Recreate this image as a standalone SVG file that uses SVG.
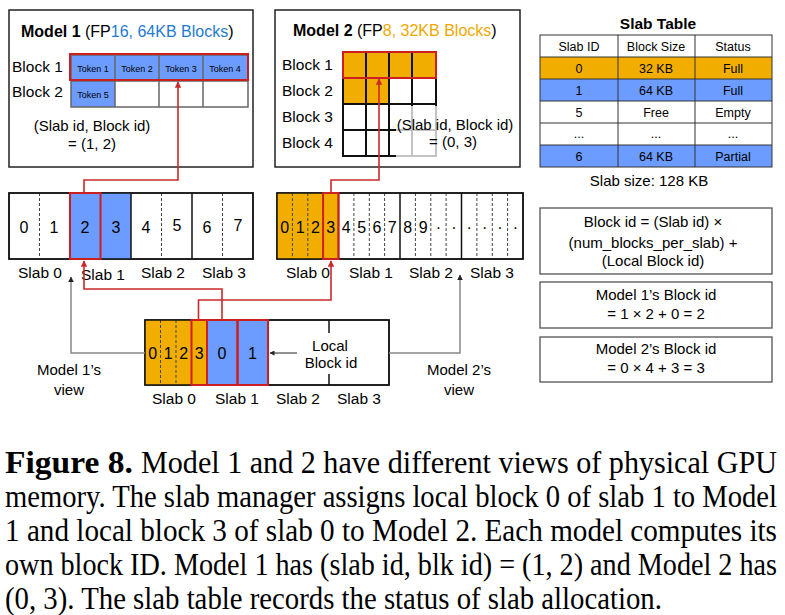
<svg xmlns="http://www.w3.org/2000/svg" width="785" height="615" viewBox="0 0 785 615">
<style>
text{font-family:"Liberation Sans",Arial,sans-serif;fill:#000}
.t16{font-size:16px}
.t15{font-size:15px}
.lbl{font-size:15.5px}
.num{font-size:16px;text-anchor:middle}
.mid{text-anchor:middle}
.tab{font-size:12.5px;text-anchor:middle}
.tok{font-size:9px;text-anchor:middle}
.box{fill:#fff;stroke:#222;stroke-width:1.5}
.rbox{fill:#fff;stroke:#444;stroke-width:1.2}
.org{fill:#F2AE00}
.blu{fill:#6C9CFF}
.sol{stroke:#111;stroke-width:1.5;fill:none}
.dsh{stroke:#444;stroke-width:1;stroke-dasharray:3 2;fill:none}
.red{fill:none;stroke:#CC1F1F;stroke-width:2}
.cred{fill:none;stroke:#CC2A2A;stroke-width:1.6}
.cgry{fill:none;stroke:#888;stroke-width:1.5}
.cblk{fill:none;stroke:#222;stroke-width:1}
text.cap{font-family:"Liberation Serif","Times New Roman",serif;font-size:31px}
</style>
<defs>
<marker id="ar" viewBox="0 0 10 10" refX="9" refY="5" markerWidth="4" markerHeight="4" orient="auto"><path d="M0,0 L10,5 L0,10 z" fill="#CC2A2A"/></marker>
<marker id="ag" viewBox="0 0 10 10" refX="9" refY="5" markerWidth="4" markerHeight="4" orient="auto"><path d="M0,0 L10,5 L0,10 z" fill="#222"/></marker>
<marker id="ab" viewBox="0 0 10 10" refX="9" refY="5" markerWidth="5" markerHeight="5" orient="auto"><path d="M0,0 L10,5 L0,10 z" fill="#222"/></marker>
</defs>

<!-- Model 1 -->
<g id="model1">
<rect x="9" y="10" width="244" height="157" class="box"/>
<text x="21" y="37" class="t16"><tspan font-weight="bold">Model 1</tspan> (FP<tspan fill="#1F7BD0">16, 64KB Blocks</tspan>)</text>
<text x="12" y="72" class="lbl">Block 1</text>
<text x="12" y="97" class="lbl">Block 2</text>
<rect x="71" y="55" width="177" height="26" class="blu"/>
<rect x="71" y="81" width="44" height="26" class="blu"/>
<g stroke="#666" stroke-width="1.5" fill="none">
<rect x="71" y="55" width="177" height="52"/>
<line x1="71" y1="81" x2="248" y2="81"/>
<line x1="115" y1="55" x2="115" y2="107"/>
<line x1="159" y1="55" x2="159" y2="107"/>
<line x1="203" y1="55" x2="203" y2="107"/>
</g>
<rect x="70" y="54" width="178" height="26" class="red"/>
<text x="93" y="72" class="tok">Token 1</text>
<text x="137" y="72" class="tok">Token 2</text>
<text x="181" y="72" class="tok">Token 3</text>
<text x="225" y="72" class="tok">Token 4</text>
<text x="93" y="98" class="tok">Token 5</text>
<text x="92" y="131" class="t15 mid">(Slab id, Block id)</text>
<text x="92" y="149" class="t15 mid">= (1, 2)</text>
</g>

<!-- Model 2 -->
<g id="model2">
<rect x="275" y="10" width="245" height="157" class="box"/>
<text x="293" y="36" class="t16"><tspan font-weight="bold">Model 2</tspan> (FP<tspan fill="#F0A800">8, 32KB Blocks</tspan>)</text>
<text x="282" y="70" class="lbl">Block 1</text>
<text x="282" y="96" class="lbl">Block 2</text>
<text x="282" y="122" class="lbl">Block 3</text>
<text x="282" y="148" class="lbl">Block 4</text>
<rect x="343" y="52" width="93" height="26" class="org"/>
<rect x="343" y="78" width="46" height="26" class="org"/>
<g stroke="#111" stroke-width="2" fill="none">
<rect x="343" y="52" width="93" height="104"/>
<line x1="343" y1="78" x2="436" y2="78"/>
<line x1="343" y1="104" x2="436" y2="104"/>
<line x1="343" y1="130" x2="436" y2="130"/>
<line x1="366" y1="52" x2="366" y2="156"/>
<line x1="389" y1="52" x2="389" y2="156"/>
<line x1="412" y1="52" x2="412" y2="156"/>
</g>
<rect x="343" y="52" width="93" height="26" class="red"/>
<rect x="396" y="106" width="118" height="52" fill="#fff" fill-opacity="0.75"/>
<text x="455" y="130" class="t15 mid">(Slab id, Block id)</text>
<text x="453" y="147" class="t15 mid">= (0, 3)</text>
</g>

<!-- Slab table -->
<g id="slabtable">
<text x="658" y="29" font-size="15.5" font-weight="bold" class="mid">Slab Table</text>
<rect x="540" y="57" width="232" height="22" class="org"/>
<rect x="540" y="79" width="232" height="22" class="blu"/>
<rect x="540" y="145" width="232" height="22" class="blu"/>
<g stroke="#333" stroke-width="1" fill="none">
<rect x="540" y="35" width="232" height="132"/>
<line x1="540" y1="57" x2="772" y2="57"/>
<line x1="540" y1="79" x2="772" y2="79"/>
<line x1="540" y1="101" x2="772" y2="101"/>
<line x1="540" y1="123" x2="772" y2="123"/>
<line x1="540" y1="145" x2="772" y2="145"/>
<line x1="618" y1="35" x2="618" y2="167"/>
<line x1="695" y1="35" x2="695" y2="167"/>
</g>
<text x="579" y="51" class="tab">Slab ID</text><text x="656" y="51" class="tab">Block Size</text><text x="733" y="51" class="tab">Status</text>
<text x="579" y="73" class="tab">0</text><text x="656" y="73" class="tab">32 KB</text><text x="733" y="73" class="tab">Full</text>
<text x="579" y="95" class="tab">1</text><text x="656" y="95" class="tab">64 KB</text><text x="733" y="95" class="tab">Full</text>
<text x="579" y="117" class="tab">5</text><text x="656" y="117" class="tab">Free</text><text x="733" y="117" class="tab">Empty</text>
<text x="579" y="138" class="tab">...</text><text x="656" y="138" class="tab">...</text><text x="733" y="138" class="tab">...</text>
<text x="579" y="161" class="tab">6</text><text x="656" y="161" class="tab">64 KB</text><text x="733" y="161" class="tab">Partial</text>
<text x="649" y="186" class="t15 mid">Slab size: 128 KB</text>
</g>

<!-- Memory view row, Model 1 -->
<g id="mem1">
<rect x="9" y="193" width="244" height="66" class="box"/>
<rect x="70" y="193" width="61" height="66" class="blu"/>
<line x1="39.5" y1="193" x2="39.5" y2="259" class="dsh"/>
<line x1="161.5" y1="193" x2="161.5" y2="259" class="dsh"/>
<line x1="222.5" y1="193" x2="222.5" y2="259" class="dsh"/>
<line x1="131" y1="193" x2="131" y2="259" class="sol"/>
<line x1="192" y1="193" x2="192" y2="259" class="sol"/>
<rect x="9" y="193" width="244" height="66" class="sol"/>
<rect x="70" y="193" width="30.5" height="66" class="red"/>
<text x="24" y="233" class="num">0</text><text x="54" y="233" class="num">1</text>
<text x="85" y="233" class="num">2</text><text x="116" y="233" class="num">3</text>
<text x="146" y="233" class="num">4</text><text x="177" y="231" class="num">5</text>
<text x="207" y="233" class="num">6</text><text x="238" y="231" class="num">7</text>
<text x="40" y="278" class="lbl mid">Slab 0</text>
<text x="103" y="280" class="lbl mid">Slab 1</text>
<text x="163" y="278" class="lbl mid">Slab 2</text>
<text x="224" y="278" class="lbl mid">Slab 3</text>
</g>

<!-- Memory view row, Model 2 -->
<g id="mem2">
<rect x="277" y="193" width="246" height="66" class="box"/>
<rect x="277" y="193" width="61.5" height="66" class="org"/>
<g class="dsh">
<line x1="292.4" y1="193" x2="292.4" y2="259"/><line x1="307.8" y1="193" x2="307.8" y2="259"/><line x1="323.1" y1="193" x2="323.1" y2="259"/>
<line x1="353.9" y1="193" x2="353.9" y2="259"/><line x1="369.3" y1="193" x2="369.3" y2="259"/><line x1="384.6" y1="193" x2="384.6" y2="259"/>
<line x1="415.4" y1="193" x2="415.4" y2="259"/><line x1="430.8" y1="193" x2="430.8" y2="259"/><line x1="446.1" y1="193" x2="446.1" y2="259"/>
<line x1="476.9" y1="193" x2="476.9" y2="259"/><line x1="492.3" y1="193" x2="492.3" y2="259"/><line x1="507.6" y1="193" x2="507.6" y2="259"/>
</g>
<line x1="338.5" y1="193" x2="338.5" y2="259" class="sol"/>
<line x1="400" y1="193" x2="400" y2="259" class="sol"/>
<line x1="461.5" y1="193" x2="461.5" y2="259" class="sol"/>
<rect x="277" y="193" width="246" height="66" class="sol"/>
<rect x="323.1" y="193" width="15.4" height="66" class="red"/>
<text x="284.7" y="233" class="num">0</text><text x="300.1" y="233" class="num">1</text>
<text x="315.5" y="233" class="num">2</text><text x="330.8" y="233" class="num">3</text>
<text x="346.2" y="233" class="num">4</text><text x="361.6" y="233" class="num">5</text>
<text x="377" y="233" class="num">6</text><text x="392.3" y="233" class="num">7</text>
<text x="407.7" y="233" class="num">8</text><text x="423.1" y="233" class="num">9</text>
<text x="438.5" y="233" class="num">·</text><text x="453.8" y="233" class="num">·</text>
<text x="469.2" y="233" class="num">·</text><text x="484.6" y="233" class="num">·</text>
<text x="500" y="233" class="num">·</text><text x="515.3" y="233" class="num">·</text>
<text x="308" y="278" class="lbl mid">Slab 0</text>
<text x="371" y="278" class="lbl mid">Slab 1</text>
<text x="431" y="278" class="lbl mid">Slab 2</text>
<text x="492" y="278" class="lbl mid">Slab 3</text>
</g>

<!-- Local view box -->
<g id="localview">
<rect x="145" y="320" width="244" height="65" class="box"/>
<rect x="145" y="320" width="62" height="65" class="org"/>
<rect x="207" y="320" width="61" height="65" class="blu"/>
<line x1="160.5" y1="320" x2="160.5" y2="385" class="dsh"/>
<line x1="176" y1="320" x2="176" y2="385" class="dsh"/>
<line x1="329" y1="320" x2="329" y2="333" class="sol"/>
<line x1="329" y1="374" x2="329" y2="385" class="sol"/>
<rect x="145" y="320" width="244" height="65" class="sol"/>
<rect x="191.5" y="320" width="15.5" height="65" class="red"/>
<rect x="207" y="320" width="30.5" height="65" class="red"/>
<rect x="237.5" y="320" width="30.5" height="65" class="red"/>
<text x="152.8" y="359" class="num">0</text><text x="168.3" y="359" class="num">1</text>
<text x="183.8" y="359" class="num">2</text><text x="199.3" y="359" class="num">3</text>
<text x="222" y="359" class="num">0</text><text x="252.5" y="359" class="num">1</text>
<text x="330" y="351" class="t15 mid">Local</text>
<text x="331" y="368" class="t15 mid">Block id</text>
<text x="174" y="404" class="lbl mid">Slab 0</text>
<text x="237" y="404" class="lbl mid">Slab 1</text>
<text x="298" y="404" class="lbl mid">Slab 2</text>
<text x="359" y="404" class="lbl mid">Slab 3</text>
</g>

<g id="viewlabels">
<text x="69" y="375" class="t15 mid">Model 1’s</text>
<text x="69" y="395" class="t15 mid">view</text>
<text x="459" y="375" class="t15 mid">Model 2’s</text>
<text x="459" y="395" class="t15 mid">view</text>
</g>

<!-- Formula boxes -->
<g id="formula">
<rect x="540" y="208" width="232" height="66" class="rbox"/>
<text x="653" y="227" class="t15 mid">Block id = (Slab id) ×</text>
<text x="653" y="248" class="t15 mid">(num_blocks_per_slab) +</text>
<text x="653" y="266" class="t15 mid">(Local Block id)</text>
</g>
<g id="model1calc">
<rect x="540" y="282" width="232" height="46" class="rbox"/>
<text x="656" y="300" class="t15 mid">Model 1’s Block id</text>
<text x="656" y="319" class="t15 mid">= 1 × 2 + 0 = 2</text>
</g>
<g id="model2calc">
<rect x="540" y="337" width="232" height="45" class="rbox"/>
<text x="656" y="354" class="t15 mid">Model 2’s Block id</text>
<text x="656" y="373" class="t15 mid">= 0 × 4 + 3 = 3</text>
</g>

<!-- Connectors -->
<g id="connectors">
<path d="M84,193 V180 H178 V82" class="cred" marker-end="url(#ar)"/>
<path d="M331,193 V180 H379 V79" class="cred" marker-end="url(#ar)"/>
<path d="M222,320 V289 H84 V261" class="cred" marker-end="url(#ar)"/>
<path d="M198.5,320 V300 H331 V261" class="cred" marker-end="url(#ar)"/>
<path d="M145,353 H71 V277" class="cgry" marker-end="url(#ag)"/>
<path d="M389,353 H460 V275" class="cgry" marker-end="url(#ag)"/>
<path d="M297,353 H270" class="cblk" marker-end="url(#ab)"/>
</g>

<!-- Caption -->
<g id="caption" transform="translate(5,0) scale(0.85,1)">
<text x="0" y="473" class="cap" font-weight="bold" textLength="150.6" lengthAdjust="spacingAndGlyphs">Figure 8.</text>
<text x="160" y="473" class="cap" textLength="748.2" lengthAdjust="spacingAndGlyphs">Model 1 and 2 have different views of physical GPU</text>
<text x="0" y="507" class="cap" textLength="908.2" lengthAdjust="spacingAndGlyphs">memory. The slab manager assigns local block 0 of slab 1 to Model</text>
<text x="0" y="541" class="cap" textLength="908.2" lengthAdjust="spacingAndGlyphs">1 and local block 3 of slab 0 to Model 2. Each model computes its</text>
<text x="0" y="575" class="cap" textLength="908.2" lengthAdjust="spacingAndGlyphs">own block ID. Model 1 has (slab id, blk id) = (1, 2) and Model 2 has</text>
<text x="0" y="609" class="cap" textLength="772.9" lengthAdjust="spacingAndGlyphs">(0, 3). The slab table records the status of slab allocation.</text>
</g>
</svg>
